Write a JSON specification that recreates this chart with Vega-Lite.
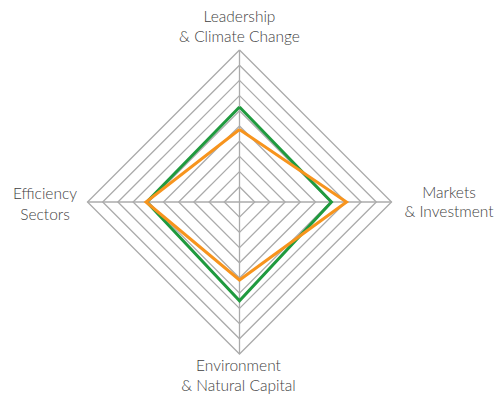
{
  "$schema": "https://vega.github.io/schema/vega-lite/v6.json",
  "width": 304,
  "height": 304,
  "autosize": "none",
  "padding": {"left": 87.5, "top": 50, "right": 106.5, "bottom": 40},
  "background": "white",
  "config": {"view": {"stroke": null}},
  "datasets": {
    "grid": [
      {"ring": 1, "ord": 0, "x": 0, "y": 1}, {"ring": 1, "ord": 1, "x": 1, "y": 0}, {"ring": 1, "ord": 2, "x": 0, "y": -1}, {"ring": 1, "ord": 3, "x": -1, "y": 0}, {"ring": 1, "ord": 4, "x": 0, "y": 1},
      {"ring": 2, "ord": 0, "x": 0, "y": 2}, {"ring": 2, "ord": 1, "x": 2, "y": 0}, {"ring": 2, "ord": 2, "x": 0, "y": -2}, {"ring": 2, "ord": 3, "x": -2, "y": 0}, {"ring": 2, "ord": 4, "x": 0, "y": 2},
      {"ring": 3, "ord": 0, "x": 0, "y": 3}, {"ring": 3, "ord": 1, "x": 3, "y": 0}, {"ring": 3, "ord": 2, "x": 0, "y": -3}, {"ring": 3, "ord": 3, "x": -3, "y": 0}, {"ring": 3, "ord": 4, "x": 0, "y": 3},
      {"ring": 4, "ord": 0, "x": 0, "y": 4}, {"ring": 4, "ord": 1, "x": 4, "y": 0}, {"ring": 4, "ord": 2, "x": 0, "y": -4}, {"ring": 4, "ord": 3, "x": -4, "y": 0}, {"ring": 4, "ord": 4, "x": 0, "y": 4},
      {"ring": 5, "ord": 0, "x": 0, "y": 5}, {"ring": 5, "ord": 1, "x": 5, "y": 0}, {"ring": 5, "ord": 2, "x": 0, "y": -5}, {"ring": 5, "ord": 3, "x": -5, "y": 0}, {"ring": 5, "ord": 4, "x": 0, "y": 5},
      {"ring": 6, "ord": 0, "x": 0, "y": 6}, {"ring": 6, "ord": 1, "x": 6, "y": 0}, {"ring": 6, "ord": 2, "x": 0, "y": -6}, {"ring": 6, "ord": 3, "x": -6, "y": 0}, {"ring": 6, "ord": 4, "x": 0, "y": 6},
      {"ring": 7, "ord": 0, "x": 0, "y": 7}, {"ring": 7, "ord": 1, "x": 7, "y": 0}, {"ring": 7, "ord": 2, "x": 0, "y": -7}, {"ring": 7, "ord": 3, "x": -7, "y": 0}, {"ring": 7, "ord": 4, "x": 0, "y": 7},
      {"ring": 8, "ord": 0, "x": 0, "y": 8}, {"ring": 8, "ord": 1, "x": 8, "y": 0}, {"ring": 8, "ord": 2, "x": 0, "y": -8}, {"ring": 8, "ord": 3, "x": -8, "y": 0}, {"ring": 8, "ord": 4, "x": 0, "y": 8},
      {"ring": 9, "ord": 0, "x": 0, "y": 9}, {"ring": 9, "ord": 1, "x": 9, "y": 0}, {"ring": 9, "ord": 2, "x": 0, "y": -9}, {"ring": 9, "ord": 3, "x": -9, "y": 0}, {"ring": 9, "ord": 4, "x": 0, "y": 9},
      {"ring": 10, "ord": 0, "x": 0, "y": 10}, {"ring": 10, "ord": 1, "x": 10, "y": 0}, {"ring": 10, "ord": 2, "x": 0, "y": -10}, {"ring": 10, "ord": 3, "x": -10, "y": 0}, {"ring": 10, "ord": 4, "x": 0, "y": 10}
    ],
    "spokes": [
      {"x": -10, "y": 0, "x2": 10, "y2": 0},
      {"x": 0, "y": -10, "x2": 0, "y2": 10}
    ],
    "scores": [
      {"series": "A", "axis": "Leadership & Climate Change", "ord": 0, "x": 0, "y": 6.25},
      {"series": "A", "axis": "Markets & Investment", "ord": 1, "x": 6.05, "y": 0},
      {"series": "A", "axis": "Environment & Natural Capital", "ord": 2, "x": 0, "y": -6.5},
      {"series": "A", "axis": "Efficiency Sectors", "ord": 3, "x": -6.1, "y": 0},
      {"series": "A", "axis": "Leadership & Climate Change", "ord": 4, "x": 0, "y": 6.25},
      {"series": "B", "axis": "Leadership & Climate Change", "ord": 0, "x": 0, "y": 4.77},
      {"series": "B", "axis": "Markets & Investment", "ord": 1, "x": 7.04, "y": 0},
      {"series": "B", "axis": "Environment & Natural Capital", "ord": 2, "x": 0, "y": -5.13},
      {"series": "B", "axis": "Efficiency Sectors", "ord": 3, "x": -6.15, "y": 0},
      {"series": "B", "axis": "Leadership & Climate Change", "ord": 4, "x": 0, "y": 4.77}
    ]
  },
  "layer": [
    {
      "data": {"name": "grid"},
      "mark": {"type": "line", "stroke": "#ababab", "strokeWidth": 1.3},
      "encoding": {
        "x": {"field": "x", "type": "quantitative", "scale": {"domain": [-10, 10], "nice": false, "zero": false}, "axis": null},
        "y": {"field": "y", "type": "quantitative", "scale": {"domain": [-10, 10], "nice": false, "zero": false}, "axis": null},
        "detail": {"field": "ring", "type": "nominal"},
        "order": {"field": "ord", "type": "quantitative"}
      }
    },
    {
      "data": {"name": "spokes"},
      "mark": {"type": "rule", "stroke": "#ababab", "strokeWidth": 1.3},
      "encoding": {
        "x": {"field": "x", "type": "quantitative"},
        "y": {"field": "y", "type": "quantitative"},
        "x2": {"field": "x2"},
        "y2": {"field": "y2"}
      }
    },
    {
      "data": {"name": "scores"},
      "mark": {"type": "line", "strokeWidth": 3, "strokeJoin": "miter"},
      "encoding": {
        "x": {"field": "x", "type": "quantitative"},
        "y": {"field": "y", "type": "quantitative"},
        "color": {"field": "series", "type": "nominal", "scale": {"domain": ["A", "B"], "range": ["#1f9a3e", "#f7941d"]}, "legend": null},
        "order": {"field": "ord", "type": "quantitative"}
      }
    },
    {
      "data": {"values": [{"x": 0, "y": 10, "label": "Leadership\n& Climate Change"}]},
      "mark": {"type": "text", "font": "Lato", "fontWeight": 300, "fontSize": 15.5, "color": "#3f3f3f", "lineBreak": "\n", "lineHeight": 20, "align": "center", "baseline": "alphabetic", "dy": -28.5},
      "encoding": {
        "x": {"field": "x", "type": "quantitative"},
        "y": {"field": "y", "type": "quantitative"},
        "text": {"field": "label"}
      }
    },
    {
      "data": {"values": [{"x": 10, "y": 0, "label": "Markets\n& Investment"}]},
      "mark": {"type": "text", "font": "Lato", "fontWeight": 300, "fontSize": 15.5, "color": "#3f3f3f", "lineBreak": "\n", "lineHeight": 19.5, "align": "center", "baseline": "alphabetic", "dx": 57.5, "dy": -4.5},
      "encoding": {
        "x": {"field": "x", "type": "quantitative"},
        "y": {"field": "y", "type": "quantitative"},
        "text": {"field": "label"}
      }
    },
    {
      "data": {"values": [{"x": -10, "y": 0, "label": "Efficiency\nSectors"}]},
      "mark": {"type": "text", "font": "Lato", "fontWeight": 300, "fontSize": 15.5, "color": "#3f3f3f", "lineBreak": "\n", "lineHeight": 20.5, "align": "center", "baseline": "alphabetic", "dx": -42.5, "dy": -3},
      "encoding": {
        "x": {"field": "x", "type": "quantitative"},
        "y": {"field": "y", "type": "quantitative"},
        "text": {"field": "label"}
      }
    },
    {
      "data": {"values": [{"x": 0, "y": -10, "label": "Environment\n& Natural Capital"}]},
      "mark": {"type": "text", "font": "Lato", "fontWeight": 300, "fontSize": 15.5, "color": "#3f3f3f", "lineBreak": "\n", "lineHeight": 20, "align": "center", "baseline": "alphabetic", "dx": -1, "dy": 16.5},
      "encoding": {
        "x": {"field": "x", "type": "quantitative"},
        "y": {"field": "y", "type": "quantitative"},
        "text": {"field": "label"}
      }
    }
  ]
}
